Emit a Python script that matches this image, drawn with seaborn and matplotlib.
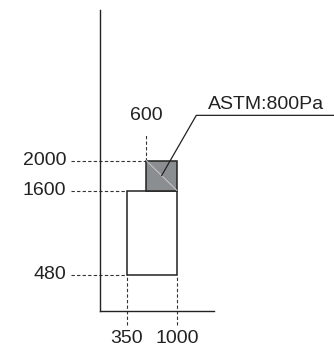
import matplotlib
matplotlib.use("Agg")
import matplotlib.pyplot as plt
import seaborn as sns

# Data
bar_left = [350, 600]
bar_right = [1000, 1000]
bar_bottom = [480, 1600]
bar_top = [1600, 2000]
bar_colors = ["white", "#8b8e90"]
y_marks = [2000, 1600, 480]
y_mark_ends = [600, 350, 350]
x_marks = [350, 1000]
top_mark = 600
note_text = "ASTM:800Pa"

sns.set_style("white")
plt.rcParams['font.family'] = ['Liberation Sans', 'DejaVu Sans']

fig = plt.figure(figsize=(3.34, 3.49), dpi=100)
ax = fig.add_axes([100/334, 1-311/349, 114/334, 301/349])
ax.set_xlim(0, 1480)
ax.set_ylim(0, 4000)
for s in ["top", "right"]:
    ax.spines[s].set_visible(False)
for s in ["left", "bottom"]:
    ax.spines[s].set_color("#222222")
    ax.spines[s].set_linewidth(1.0)
ax.set_xticks([])
ax.set_yticks([])

# bars (floating rectangles)
for l, r, b, t, c in zip(bar_left, bar_right, bar_bottom, bar_top, bar_colors):
    ax.bar(l, t - b, width=r - l, bottom=b, align="edge", color=c,
           edgecolor="#222222", linewidth=1.1, zorder=3)

# light diagonal in gray box
ax.plot([bar_left[1], bar_right[1]], [bar_top[1], bar_bottom[1]],
        color="#c9c9c9", lw=0.7, zorder=4)

dash = dict(color="#333333", lw=0.8, linestyle=(0, (3, 2)), clip_on=False, zorder=2)
fs = 14
# horizontal reference lines + labels
for yv, xe in zip(y_marks, y_mark_ends):
    ax.plot([-370, xe], [yv, yv], **dash)
    ax.text(-440, yv, str(yv), ha="right", va="center", fontsize=fs, color="#222222")

# vertical reference lines + labels
for xv in x_marks:
    ax.plot([xv, xv], [-190, bar_bottom[0]], **dash)
    ax.text(xv, -360, str(xv), ha="center", va="center", fontsize=fs, color="#222222")

ax.plot([top_mark, top_mark], [2000, 2350], **dash)
ax.text(top_mark, 2600, str(top_mark), ha="center", va="center", fontsize=fs, color="#222222")

# annotation leader
ax.plot([800, 1250, 3100], [1800, 2600, 2600], color="#222222", lw=0.9, clip_on=False, zorder=5)
ax.text(1400, 2750, note_text, ha="left", va="center", fontsize=fs, color="#222222")

fig.savefig("out.png", dpi=100)
